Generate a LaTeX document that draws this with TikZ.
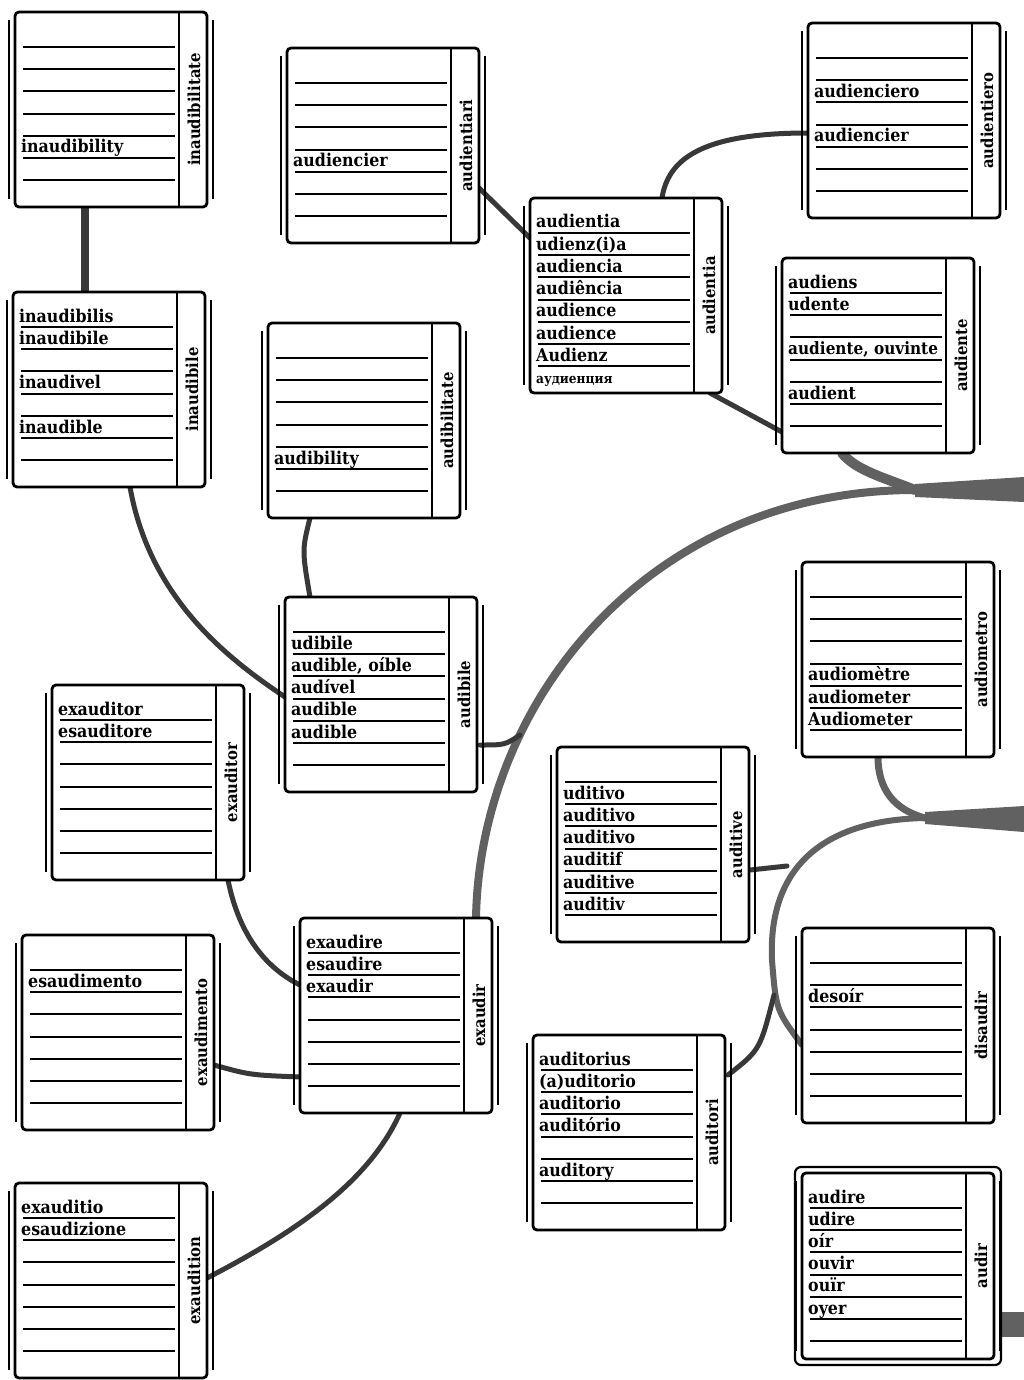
\documentclass[tikz,border=0pt]{standalone}
\usepackage{fontspec}
\setmainfont[FakeStretch=0.9]{DejaVu Serif}
\usetikzlibrary{calc}
\pgfdeclarelayer{bg}
\pgfsetlayers{bg,main}
\tikzset{
 frame/.style={draw, line width=2.8pt, rounded corners=4pt, minimum width=192pt, inner sep=0pt, outer sep=0pt, anchor=north west, fill=white},
 rule/.style={line width=1.9pt},
 sepline/.style={line width=1.4pt},
 side/.style={line width=2.4pt},
 word/.style={anchor=base west, inner sep=0pt, font=\bfseries\fontsize{17.6}{17.6}\selectfont},
 lab/.style={rotate=90, inner sep=0pt, font=\bfseries\fontsize{16.5}{16.5}\selectfont},
 conn/.style={line width=5pt, draw=black!78, line cap=round},
 trunk/.style={draw=black!62, line cap=round},
}
\newcommand\wbox[6][195]{%
\begin{scope}[shift={(#3,#4)}]
\draw[side] (-6,8) -- (-6,{#1-8});
\draw[side] (198,8) -- (198,{#1-8});
\node[frame, minimum height=#1 pt] (#2) at (0,0) {};
\draw[sepline] (164,1) -- (164,{#1-1});
\foreach \kk in {0,...,6}{\draw[rule] (8,{35+22.2*\kk}) -- (160,{35+22.2*\kk});}
\node[lab] at (179,{#1/2}) {#5};
\foreach \rw/\tx in {#6}{\node[word] at (6,{30+22.2*\rw}) {\tx};}
\end{scope}}
\begin{document}
\begin{tikzpicture}[x=1pt,y=-1pt]
\useasboundingbox (0,0) rectangle (1024,1380);
\wbox{b1}{15}{12}{inaudibilitate}{5/inaudibility}
\wbox{b2}{287}{48}{audientiari}{4/audiencier}
\wbox{b3}{530}{198}{audientia}{0/audientia,1/{udienz(i)a},2/audiencia,3/audiência,4/audience,5/audience,6/Audienz,7/{\fontsize{13.5}{13.5}\selectfont аудиенция}}
\wbox{b4}{808}{23}{audientiero}{2/audienciero,4/audiencier}
\wbox{b5}{782}{258}{audiente}{0/audiens,1/udente,3/{\fontsize{17}{17}\selectfont audiente, ouvinte},5/audient}
\wbox{b6}{13}{292}{inaudibile}{0/inaudibilis,1/inaudibile,3/inaudivel,5/inaudible}
\wbox{b7}{268}{323}{audibilitate}{5/audibility}
\wbox{b8}{285}{597}{audibile}{1/udibile,2/{audible, oíble},3/audível,4/audible,5/audible}
\wbox{b9}{802}{562}{audiometro}{4/audiomètre,5/audiometer,6/Audiometer}
\wbox{b10}{52}{685}{exauditor}{0/exauditor,1/esauditore}
\wbox{b11}{557}{747}{auditive}{1/uditivo,2/auditivo,3/auditivo,4/auditif,5/auditive,6/auditiv}
\wbox{b12}{300}{918}{exaudir}{0/exaudire,1/esaudire,2/exaudir}
\wbox{b13}{22}{935}{exaudimento}{1/esaudimento}
\wbox{b14}{802}{928}{disaudir}{2/desoír}
\wbox{b15}{533}{1035}{auditori}{0/auditorius,1/{(a)uditorio},2/auditorio,3/auditório,5/auditory}
\wbox{b16}{15}{1183}{exaudition}{0/exauditio,1/esaudizione}
\wbox[186]{b17}{802}{1173}{audir}{0/audire,1/udire,2/oír,3/ouvir,4/ouïr,5/oyer}
\draw[line width=2.2pt, rounded corners=6pt] ($(b17.north west)+(-7,-6)$) rectangle ($(b17.south east)+(7,6)$);
\begin{pgfonlayer}{bg}
\fill[white] (0,0) rectangle (1024,1380);
% trunk 1
\coordinate (T1) at (1024,489);
\coordinate (J1) at (915,490);
\fill[black!62] (1024,477) -- (915,484) -- (915,497) -- (1024,502) -- cycle;
\draw[trunk, line width=10pt] (J1) .. controls (885,478) and (855,470) .. ($(b5.south west)+(60,0)$);
\draw[trunk, line width=8pt] (J1) .. controls (650,490) and (480,700) .. ($(b12.north west)+(176,0)$);
\coordinate (A1) at (520,735);
\draw[conn] ($(b8.north west)+(195,148)$) .. controls (505,745) .. (A1);
% trunk 2
\coordinate (T2) at (1024,820);
\coordinate (J2) at (925,818);
\fill[black!62] (1024,806) -- (925,812) -- (925,824) -- (1024,832) -- cycle;
\draw[trunk, line width=7pt] (J2) .. controls (895,810) and (878,790) .. ($(b9.south west)+(76,0)$);
\draw[trunk, line width=6pt] (J2) .. controls (820,820) and (768,870) .. (772,960) .. controls (776,1010) .. ($(b14.north west)+(0,117)$);
\coordinate (A2) at (787,866);
\draw[conn] ($(b11.north west)+(193,123)$) -- (A2);
\coordinate (A3) at (774,995);
\draw[conn] ($(b15.north west)+(195,40)$) .. controls (760,1050) .. (A3);
% trunk 3
\coordinate (T3) at (1024,1325);
\fill[black!62] ($(b17.north east)+(6,139)$) rectangle (1024,1337);
% small connectors
\draw[conn, line width=8pt] ($(b1.south west)+(70,0)$) -- ($(b6.north west)+(72,0)$);
\draw[conn] ($(b2.north west)+(192,140)$) -- ($(b3.north west)+(0,40)$);
\draw[conn] ($(b3.north west)+(132,0)$) .. controls (668,160) and (700,133) .. ($(b4.north west)+(0,110)$);
\draw[conn] ($(b3.south west)+(180,0)$) -- ($(b5.north west)+(0,174)$);
\draw[conn] ($(b7.south west)+(42,0)$) .. controls (302,550) .. ($(b8.north west)+(25,0)$);
\draw[conn] ($(b6.south west)+(117,0)$) .. controls (150,600) and (230,660) .. ($(b8.north west)+(0,100)$);
\draw[conn] ($(b10.south west)+(176,0)$) .. controls (240,940) and (270,970) .. ($(b12.north west)+(0,67)$);
\draw[conn] ($(b13.north west)+(192,130)$) .. controls (250,1075) .. ($(b12.north west)+(0,159)$);
\draw[conn] ($(b16.north west)+(192,95)$) .. controls (300,1230) and (370,1180) .. ($(b12.south west)+(100,0)$);
\end{pgfonlayer}
\end{tikzpicture}
\end{document}
